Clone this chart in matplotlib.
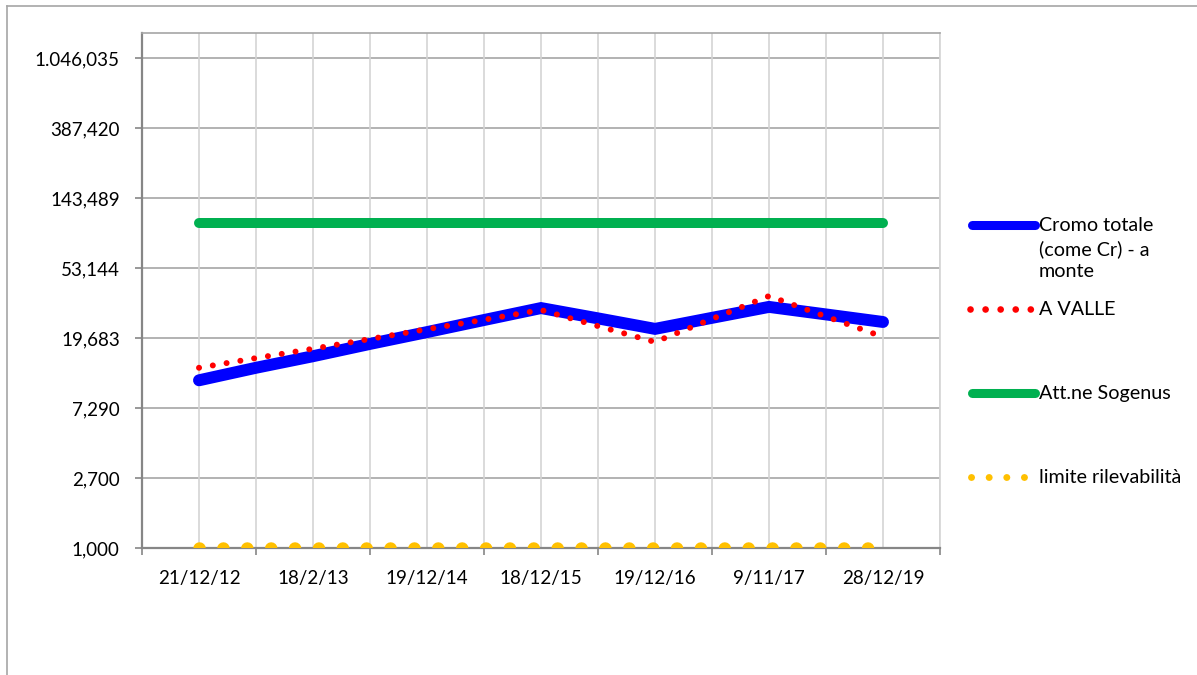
import numpy as np
import matplotlib
matplotlib.use('Agg')
import matplotlib.pyplot as plt
from matplotlib.lines import Line2D
from matplotlib.ticker import FixedLocator, FuncFormatter

plt.rcParams['font.family'] = ['Lato', 'DejaVu Sans']

# dati
date_labels = ['21/12/12', '18/2/13', '19/12/14', '18/12/15', '19/12/16', '9/11/17', '28/12/19']
monte = [10.8, 12.9, 15.2, 18.1, 21.4, 25.4, 30.1, 26.0, 22.4, 26.2, 30.6, 27.5, 24.7]
valle = [12.9, 14.8, 16.9, 19.4, 22.3, 25.5, 29.3, 23.3, 18.6, 25.8, 35.7, 26.7, 20.0]
sogenus = [100, 100, 100, 100, 100, 100, 100, 100, 100, 100, 100, 100, 100]
limite = [1, 1, 1, 1, 1, 1, 1, 1, 1, 1, 1, 1, 1]
labels = ['Cromo totale\n(come Cr) - a\nmonte', 'A VALLE', 'Att.ne Sogenus', 'limite rilevabilità']

W, H = 1197, 675
fig = plt.figure(figsize=(W / 100, H / 100), dpi=100)
ax = fig.add_axes([142 / W, 1 - 548 / H, (940 - 142) / W, (548 - 33) / H])

x = np.arange(1, len(monte) + 1)

ax.plot(x, monte, color='#0000ff', lw=8.6, solid_capstyle='round', solid_joinstyle='miter', zorder=4)
ax.plot(x, valle, color='#ff0000', lw=4.3, linestyle=(0, (0.01, 2.33)), dash_capstyle='round', zorder=5)
ax.plot(x, sogenus, color='#00b050', lw=7.2, solid_capstyle='round', zorder=4)
ax.plot(x, limite, color='#ffc000', lw=9.0, linestyle=(0, (0.01, 1.9)), dash_capstyle='round', zorder=5)

# scala logaritmica base 2.7
ax.set_yscale('log', base=2.7)
ax.set_ylim(1, 2.7 ** 7.357)
ax.yaxis.set_major_locator(FixedLocator([2.7 ** k for k in range(8)]))
ax.yaxis.set_minor_locator(FixedLocator([]))


def fmt_it(v, pos):
    s = f"{v:,.3f}"
    return s.replace(',', 'X').replace('.', ',').replace('X', '.')


ax.yaxis.set_major_formatter(FuncFormatter(fmt_it))

ax.set_xlim(0, len(monte) + 1)
ax.xaxis.set_major_locator(FixedLocator(np.arange(1, len(monte) + 1, 2)))
ax.set_xticklabels(date_labels)
ax.xaxis.set_minor_locator(FixedLocator(np.arange(0, len(monte) + 2, 2)))

ax.tick_params(axis='x', which='major', length=0, pad=16, labelsize=13.5)
ax.tick_params(axis='x', which='minor', length=5, width=1.2, color='#868686', direction='out')
ax.tick_params(axis='y', which='major', length=5, width=1.2, color='#868686', pad=11, labelsize=13.5)

# griglia
for xv in range(0, len(monte) + 2):
    ax.axvline(xv, color='#d4d4d4', lw=1.2, zorder=1)
ax.grid(axis='y', which='major', color='#a6a6a6', lw=1.2, zorder=1)
ax.set_axisbelow(True)

for s in ['left', 'bottom']:
    ax.spines[s].set_color('#868686')
    ax.spines[s].set_linewidth(1.6)
ax.spines['top'].set_color('#a6a6a6')
ax.spines['top'].set_linewidth(1.2)
ax.spines['right'].set_color('#d4d4d4')
ax.spines['right'].set_linewidth(1.2)


# legenda manuale
def px(xp, yp):
    return xp / W, 1 - yp / H


styles = [
    dict(color='#0000ff', lw=6.5, solid_capstyle='round'),
    dict(color='#ff0000', lw=4.8, linestyle=(0, (0.01, 2.25)), dash_capstyle='round'),
    dict(color='#00b050', lw=6.5, solid_capstyle='round'),
    dict(color='#ffc000', lw=5.0, linestyle=(0, (0.01, 2.53)), dash_capstyle='round'),
]
starts = [972, 970, 972, 971]
ends = [1035, 1032.5, 1035, 1025]
ys = [225, 309, 393, 477]
for st, y, lab, xs, xe in zip(styles, ys, labels, starts, ends):
    x0, y0 = px(xs, y)
    x1, _ = px(xe, y)
    fig.add_artist(Line2D([x0, x1], [y0, y0], transform=fig.transFigure, **st))
    tx, ty = px(1039, y - 8)
    fig.text(tx, ty, lab, fontsize=14.2, va='top', ha='left', linespacing=1.4)

# cornice
fig.add_artist(Line2D([7 / W, 7 / W], [0, 1 - 6 / H], transform=fig.transFigure, color='#a6a6a6', lw=1.2))
fig.add_artist(Line2D([7 / W, 1], [1 - 6 / H, 1 - 6 / H], transform=fig.transFigure, color='#a6a6a6', lw=1.2))

fig.savefig('out.png', dpi=100)
